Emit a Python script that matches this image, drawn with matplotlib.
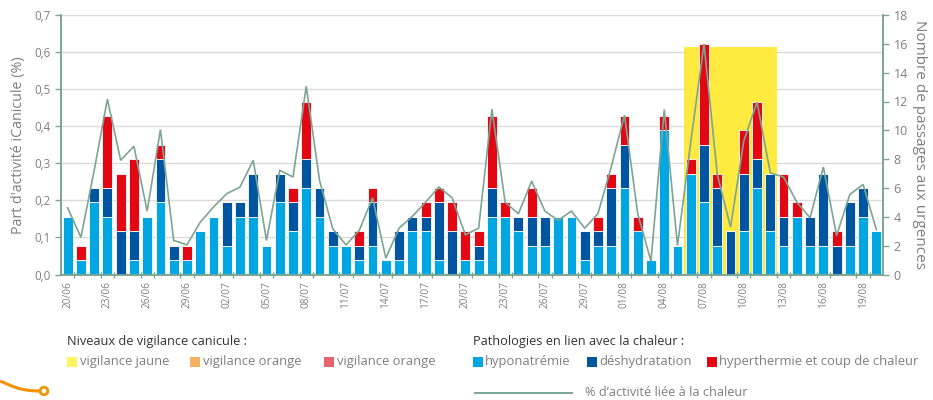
import matplotlib
matplotlib.use("Agg")
import matplotlib.pyplot as plt
from matplotlib.patches import Rectangle, Circle
from matplotlib.lines import Line2D
from matplotlib.path import Path
from matplotlib.patches import PathPatch
import numpy as np

plt.rcParams['font.family'] = ['Open Sans', 'DejaVu Sans']

# ---------------- data ----------------
days = list(range(62))  # 20/06 .. 20/08
tick_labels = ['20/06', '23/06', '26/06', '29/06', '02/07', '05/07', '08/07',
               '11/07', '14/07', '17/07', '20/07', '23/07', '26/07', '29/07',
               '01/08', '04/08', '07/08', '10/08', '13/08', '16/08', '19/08']

hyponatremie = [4, 1, 5, 4, 0, 1, 4, 5, 1, 1, 3, 4, 2, 4, 4, 2, 5, 3, 6,
                4, 2, 2, 1, 2, 1, 1, 3, 3, 1, 0, 1, 1, 4, 4, 3, 2, 2, 4, 4, 1, 2, 2,
                6, 3, 1, 10, 2, 7, 5, 2, 0, 3, 6, 3, 2, 4, 2, 2, 0, 2, 4, 3]
deshydratation = [0, 0, 1, 2, 3, 2, 0, 3, 1, 0, 0, 0, 3, 1, 3, 0, 2, 2, 2,
                  2, 1, 0, 1, 3, 0, 2, 1, 1, 4, 3, 0, 1, 2, 0, 1, 2, 2, 0, 0, 2, 1, 4,
                  3, 0, 0, 0, 0, 0, 4, 4, 3, 4, 2, 4, 2, 0, 2, 5, 2, 3, 2, 0]
hyperthermie = [0, 1, 0, 5, 4, 5, 0, 1, 0, 1, 0, 0, 0, 0, 0, 0, 0, 1, 4,
                0, 0, 0, 1, 1, 0, 0, 0, 1, 1, 2, 2, 1, 5, 1, 0, 2, 0, 0, 0, 0, 1, 1,
                2, 1, 0, 1, 0, 1, 7, 1, 0, 3, 4, 0, 3, 1, 0, 0, 1, 0, 0, 0]
pct_activite = [0.18, 0.10, 0.28, 0.473, 0.308, 0.346, 0.171, 0.391, 0.092, 0.08,
                0.141, 0.182, 0.218, 0.236, 0.308, 0.092, 0.281, 0.263, 0.508,
                0.254, 0.123, 0.08, 0.119, 0.207, 0.044, 0.125, 0.157, 0.195, 0.236,
                0.207, 0.107, 0.125, 0.446, 0.195, 0.164, 0.252, 0.171, 0.146, 0.171,
                0.125, 0.164, 0.29,
                0.43, 0.164, 0.036, 0.445, 0.078, 0.357, 0.622, 0.27, 0.128, 0.36,
                0.465, 0.274, 0.263, 0.195, 0.153, 0.29, 0.105, 0.216, 0.243, 0.121]

# vigilance jaune period (day indices 06/08 -> 12/08) and its drawn height (left axis)
vigilance_jaune_days = [47, 53]
vigilance_jaune_top = 0.613

# ---------------- styles ----------------
C_LIGHT = '#00A6E2'
C_DARK = '#0055A0'
C_RED = '#E30613'
C_YELLOW = '#FFEA2E'
C_LINE = '#7CA593'
C_SPINE = '#7CA593'
C_GRID = '#DADADA'
C_TXT = '#7F7F7F'

W, H = 933, 400
fig = plt.figure(figsize=(W / 100, H / 100), dpi=100)
L, R, B, T = 61, 883, 274.5, 15
ax = fig.add_axes([L / W, 1 - B / H, (R - L) / W, (B - T) / H])
ax2 = ax.twinx()

YMAX_L, YMAX_R = 0.7, 18
scale = YMAX_R / YMAX_L

x = np.array(days)
light = np.array(hyponatremie)
dark = np.array(deshydratation)
red = np.array(hyperthermie)

# grid (left axis values) drawn on ax2 behind everything
for v in np.arange(0.1, 0.71, 0.1):
    ax2.axhline(v * scale, color=C_GRID, lw=1.0, zorder=0)

ax2.bar((vigilance_jaune_days[0] + vigilance_jaune_days[1]) / 2,
        vigilance_jaune_top * scale,
        width=vigilance_jaune_days[1] - vigilance_jaune_days[0] + 1,
        color=C_YELLOW, alpha=0.92, zorder=1, linewidth=0)

bw = 0.74
kw = dict(width=bw, edgecolor='white', linewidth=0.6, zorder=2)
ax2.bar(x, light, color=C_LIGHT, **kw)
ax2.bar(x, dark, bottom=light, color=C_DARK, **kw)
ax2.bar(x, red, bottom=light + dark, color=C_RED, **kw)

# line on left axis, drawn above bars
ax.set_zorder(ax2.get_zorder() + 1)
ax.patch.set_visible(False)
ax.plot(x, pct_activite, color=C_LINE, lw=1.2, zorder=5, solid_joinstyle='miter')

ax.set_xlim(-0.5, 61.5)
ax.set_ylim(0, YMAX_L)
ax2.set_ylim(0, YMAX_R)

ax.set_yticks(np.arange(0, 0.71, 0.1))
ax.set_yticklabels([f"{v:.1f}".replace('.', ',') for v in np.arange(0, 0.71, 0.1)])
ax2.set_yticks(range(0, 19, 2))

ax.set_xticks(range(0, 62, 3))
ax.set_xticklabels(tick_labels, rotation=90, fontsize=7.3, color=C_TXT)
ax.set_xticks([b - 0.5 for b in range(3, 62, 3)] + [b + 0.5 for b in range(0, 61, 3)], minor=True)
ax.tick_params(axis='x', which='major', length=0, pad=5)
ax.tick_params(axis='x', which='minor', length=4, direction='inout', color=C_SPINE, width=1)

for a in (ax, ax2):
    a.spines['top'].set_visible(False)
    for s in ('left', 'right', 'bottom'):
        a.spines[s].set_color(C_SPINE)
        a.spines[s].set_linewidth(1.2)
ax.tick_params(axis='y', colors=C_TXT, labelsize=8.3, length=4, width=1, color=C_SPINE)
ax2.tick_params(axis='y', colors=C_TXT, labelsize=9, length=4, width=1, color=C_SPINE)

ax.set_ylabel("Part d'activité iCanicule (%)", color=C_TXT, fontsize=10.3, labelpad=6)
ax2.set_ylabel("Nombre de passages aux urgences", color=C_TXT, fontsize=11,
               rotation=270, labelpad=14)

# ---------------- legend (manual) ----------------
def fx(px):
    return px / W

def fy(py):
    return 1 - py / H

def square(px, py, color, size=10):
    fig.patches.append(Rectangle((fx(px), fy(py + size / 2)), size / W, size / H,
                                 transform=fig.transFigure, color=color, lw=0))

fig.text(fx(67), fy(341), "Niveaux de vigilance canicule :", fontsize=9.2,
         color='#333333', va='center', ha='left')
fig.text(fx(473), fy(341), "Pathologies en lien avec la chaleur :", fontsize=9.2,
         color='#333333', va='center', ha='left')

legend_vig = [(67, '#FFF35F', 'vigilance jaune'),
              (190, '#F5B061', 'vigilance orange'),
              (324, '#E8646C', 'vigilance orange')]
for px, col, lab in legend_vig:
    square(px, 362, col)
    fig.text(fx(px + 13), fy(362), lab, fontsize=9.4, color=C_TXT, va='center', ha='left')

legend_path = [(473, C_LIGHT, 'hyponatrémie'),
               (587, C_DARK, 'déshydratation'),
               (707, C_RED, 'hyperthermie et coup de chaleur')]
for px, col, lab in legend_path:
    square(px, 362, col)
    fig.text(fx(px + 12), fy(362), lab, fontsize=9.4, color=C_TXT, va='center', ha='left')

fig.lines.append(Line2D([fx(475), fx(572)], [fy(393), fy(393)], transform=fig.transFigure,
                        color=C_LINE, lw=1.4))
fig.text(fx(585), fy(393), "% d’activité liée à la chaleur", fontsize=9.2, color=C_TXT,
         va='center', ha='left')

# orange decoration bottom-left
verts = [(fx(0), fy(381)), (fx(12), fy(386)), (fx(20), fy(391)), (fx(40), fy(391))]
path = Path(verts, [Path.MOVETO, Path.CURVE4, Path.CURVE4, Path.CURVE4])
fig.patches.append(PathPatch(path, transform=fig.transFigure, fill=False,
                             edgecolor='#F39200', lw=2.2))
circ = Circle((44, H - 391), 3.8, transform=None, fill=True, facecolor='white',
              edgecolor='#F39200', lw=2.0)
fig.patches.append(circ)

fig.savefig("out.png", dpi=100)
